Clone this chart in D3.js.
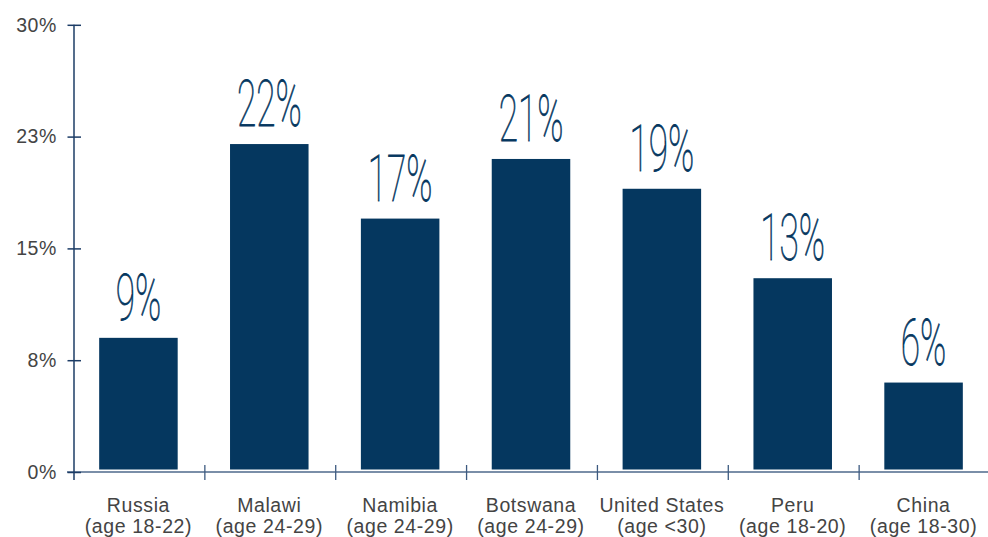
<!DOCTYPE html>
<html>
<head>
<meta charset="utf-8">
<script src="https://cdn.jsdelivr.net/npm/d3@7"></script>
<style>
  html, body { margin: 0; padding: 0; background: #fff; }
  svg { display: block; }
</style>
</head>
<body>
<svg id="chart" width="988" height="537"></svg>
<script>
// Share of young adults, by country (percent)
const countries = ["Russia", "Malawi", "Namibia", "Botswana", "United States", "Peru", "China"];
const ageGroups = ["(age 18-22)", "(age 24-29)", "(age 24-29)", "(age 24-29)", "(age <30)", "(age 18-20)", "(age 18-30)"];
const shares = [9, 22, 17, 21, 19, 13, 6];
const yTicks = [0, 7.5, 15, 22.5, 30];

const svg = d3.select("#chart");
const barColor = "#05375f";
const textFont = "'Liberation Sans', Arial, sans-serif";
const textColor = "#444";

const x = d3.scaleBand()
  .domain(countries)
  .range([74, 990])
  .paddingInner(0.4)
  .paddingOuter(0.2);

const y = d3.scaleLinear()
  .domain([0, 30])
  .range([472, 24.8]);

// Bars
svg.append("g")
  .selectAll("rect")
  .data(countries)
  .join("rect")
  .attr("x", (d) => x(d) - 1)
  .attr("width", x.bandwidth())
  .attr("y", (d, i) => y(shares[i]))
  .attr("height", (d, i) => y(0) - 2.5 - y(shares[i]))
  .attr("fill", barColor);

// Value labels in a tall, condensed face
svg.append("g")
  .selectAll("text")
  .data(countries)
  .join("text")
  .attr("transform", (d, i) => `translate(${x(d) + x.bandwidth() / 2 - 1},${y(shares[i]) - 18}) scale(0.55,1)`)
  .attr("text-anchor", "middle")
  .attr("font-family", "Roboto, 'Liberation Sans', sans-serif")
  .attr("font-weight", 100)
  .attr("font-size", 64)
  .attr("stroke", barColor)
  .attr("stroke-width", 0.8)
  .attr("fill", barColor)
  .text((d, i) => shares[i] + "%");

// X axis: baseline plus separators between categories
const xAxis = svg.append("g").attr("transform", `translate(0,${y(0)})`);
xAxis.append("line")
  .attr("x1", 67).attr("x2", 988)
  .attr("stroke", "#7a8ea8").attr("stroke-width", 2);
const step = x.step();
const separators = countries.slice(1).map((d) => x(d) - x.paddingInner() * step / 2);
xAxis.selectAll("line.sep")
  .data(separators)
  .join("line")
  .attr("class", "sep")
  .attr("x1", (d) => d).attr("x2", (d) => d)
  .attr("y1", -7).attr("y2", 8)
  .attr("stroke", "#3d5a80").attr("stroke-width", 1.3);

// Category labels (two lines)
const labels = xAxis.selectAll("text.cat")
  .data(countries)
  .join("text")
  .attr("class", "cat")
  .attr("text-anchor", "middle")
  .attr("font-family", textFont)
  .attr("font-size", 19.5)
  .attr("letter-spacing", 0.6)
  .attr("fill", textColor);
labels.append("tspan")
  .attr("x", (d) => x(d) + x.bandwidth() / 2 - 1)
  .attr("y", 40)
  .text((d) => d);
labels.append("tspan")
  .attr("x", (d) => x(d) + x.bandwidth() / 2 - 1)
  .attr("y", 61)
  .text((d, i) => ageGroups[i]);

// Y axis
const yAxis = svg.append("g")
  .attr("transform", "translate(74,0)")
  .call(d3.axisLeft(y)
    .tickValues(yTicks)
    .tickSize(0)
    .tickPadding(17)
    .tickFormat((d) => Math.round(d) + "%"));
yAxis.select(".domain").remove();
yAxis.append("line")
  .attr("y1", y(30)).attr("y2", y(0) + 8)
  .attr("stroke", "#1c3c66").attr("stroke-width", 1.5);
yAxis.selectAll(".tick").append("line")
  .attr("x1", -6.5).attr("x2", 7)
  .attr("stroke", "#1c3c66").attr("stroke-width", 1.5);
yAxis.selectAll(".tick text")
  .attr("font-family", textFont)
  .attr("font-size", 19.5)
  .attr("letter-spacing", 0.6)
  .attr("fill", textColor);
</script>
</body>
</html>
